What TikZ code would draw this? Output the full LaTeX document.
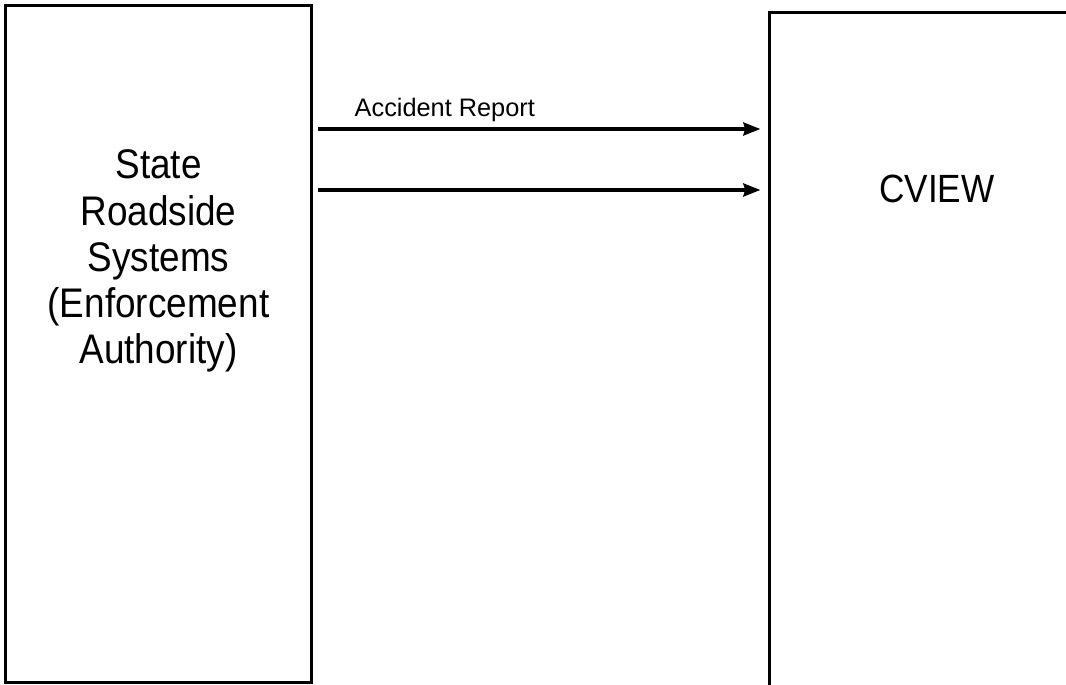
\documentclass[tikz,border=0pt]{standalone}
\usepackage{fontspec}
\setmainfont{Liberation Sans}
\usetikzlibrary{positioning,arrows.meta}

\begin{document}
\begin{tikzpicture}[x=0.01cm, y=-0.01cm,
  >={Stealth[length=0.17cm, width=0.13cm, inset=0.02cm]},
  sysbox/.style={draw, line width=0.9pt, inner sep=0pt},
  flow/.style={->, line width=0.95pt, shorten <=0.05cm, shorten >=0.08cm},
  boxtext/.style={align=center, inner sep=0pt, yscale=1.12, transform shape,
    font=\fontsize{10.5}{11.7}\selectfont}]
  \useasboundingbox (0,0) rectangle (1066,685);
  \clip (0,0) rectangle (1066,685);
  % the two systems
  \node[sysbox, minimum width=3.05cm, minimum height=6.76cm] (roadside) at (158.5,344) {};
  \node[sysbox, minimum width=3.34cm, minimum height=6.80cm] (cview) at (937,353) {};
  \node[boxtext, below=1.45cm of roadside.north] (roadsidetxt)
    {State\\Roadside\\Systems\\(Enforcement\\Authority)};
  \node[boxtext, font=\fontsize{10}{12}\selectfont, below=1.63cm of cview.north] (cviewtxt) {CVIEW};
  % flows
  \draw[flow] (roadside.east |- 0,129) -- node[pos=0.29, above, inner sep=1.6pt,
    font=\fontsize{7.2}{8}\selectfont] (acclbl) {Accident Report} (cview.west |- 0,129);
  \draw[flow] (roadside.east |- 0,190) -- (cview.west |- 0,190);
\end{tikzpicture}
\end{document}
